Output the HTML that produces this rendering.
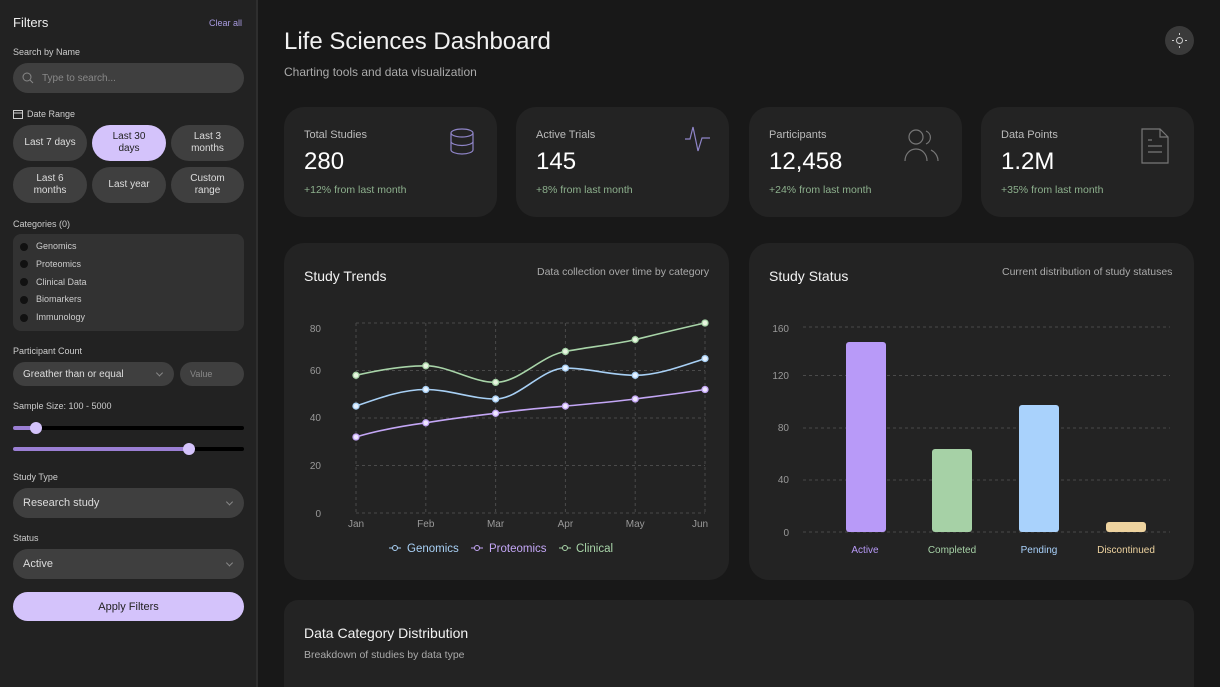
<!DOCTYPE html>
<html style="width:1220px;height:687px;overflow:hidden"><head><meta charset="utf-8"><style>
*{box-sizing:border-box;margin:0;padding:0}
body{width:1220px;height:687px;overflow:hidden;background:#181818;font-family:"Liberation Sans",sans-serif;color:#eee;position:relative}
.side{position:absolute;left:0;top:0;width:258px;height:687px;background:#222;border-right:2px solid #2e2e2e}
.a{position:absolute}
.lbl{font-size:10px;color:#ccc}
.pill{position:absolute;background:#3f3f3f;border-radius:20px;font-size:10px;color:#ddd;display:flex;align-items:center;justify-content:center;text-align:center;line-height:12px}
.card{position:absolute;background:#232323;border-radius:20px}
.sel{position:absolute;background:#3f3f3f;border-radius:20px;font-size:11px;color:#ddd;display:flex;align-items:center;padding-left:10px}
.chev{position:absolute;right:12px;top:50%;width:5px;height:5px;border-right:1px solid #888;border-bottom:1px solid #888;transform:translateY(-70%) rotate(45deg)}
.dot{display:inline-block;width:8px;height:8px;border-radius:50%;background:#111;margin-right:8px;vertical-align:middle}
</style></head><body>
<div class="side">
<div class="a" style="left:13px;top:15px;font-size:13px;color:#eee">Filters</div>
<div class="a" style="left:209px;top:18px;font-size:9px;color:#a99be0">Clear all</div>
<div class="a lbl" style="left:13px;top:47px;font-size:9px">Search by Name</div>
<div class="sel" style="left:13px;top:63px;width:231px;height:30px;color:#888;font-size:10px;padding-left:29px">Type to search...
<svg class="a" style="left:9px;top:9px" width="12" height="12"><circle cx="5" cy="5" r="4" fill="none" stroke="#888"/><line x1="8" y1="8" x2="11" y2="11" stroke="#888"/></svg></div>
<svg class="a" style="left:13px;top:109px" width="10" height="10"><rect x="0.5" y="1.5" width="9" height="8" fill="none" stroke="#ccc"/><line x1="0" y1="4" x2="10" y2="4" stroke="#ccc"/></svg>
<div class="a lbl" style="left:27px;top:109px;font-size:9px">Date Range</div>
<div class="pill" style="left:13px;top:125px;width:74px;height:36px">Last 7 days</div>
<div class="pill" style="left:92px;top:125px;width:74px;height:36px;background:#d4c3fb;color:#222">Last 30<br>days</div>
<div class="pill" style="left:171px;top:125px;width:73px;height:36px">Last 3<br>months</div>
<div class="pill" style="left:13px;top:167px;width:74px;height:36px">Last 6<br>months</div>
<div class="pill" style="left:92px;top:167px;width:74px;height:36px">Last year</div>
<div class="pill" style="left:171px;top:167px;width:73px;height:36px">Custom<br>range</div>
<div class="a lbl" style="left:13px;top:219px;font-size:9px">Categories (0)</div>
<div class="a" style="left:13px;top:234px;width:231px;height:97px;background:#323232;border-radius:8px;font-size:9px;color:#ccc;padding:4px 0 0 7px;line-height:17.8px">
<div><span class="dot"></span>Genomics</div><div><span class="dot"></span>Proteomics</div><div><span class="dot"></span>Clinical Data</div><div><span class="dot"></span>Biomarkers</div><div><span class="dot"></span>Immunology</div></div>
<div class="a lbl" style="left:13px;top:346px;font-size:9px">Participant Count</div>
<div class="sel" style="left:13px;top:362px;width:161px;height:24px;font-size:10px">Greather than or equal<span class="chev"></span></div>
<div class="sel" style="left:180px;top:362px;width:64px;height:24px;font-size:9px;color:#888">Value</div>
<div class="a lbl" style="left:13px;top:401px;font-size:9px">Sample Size: 100 - 5000</div>
<div class="a" style="left:13px;top:426px;width:231px;height:4px;background:#000;border-radius:2px"></div>
<div class="a" style="left:13px;top:426px;width:22px;height:4px;background:#9b7fd4;border-radius:2px"></div>
<div class="a" style="left:30px;top:422px;width:12px;height:12px;background:#d4c3fb;border-radius:50%"></div>
<div class="a" style="left:13px;top:447px;width:231px;height:4px;background:#000;border-radius:2px"></div>
<div class="a" style="left:13px;top:447px;width:176px;height:4px;background:#9b7fd4;border-radius:2px"></div>
<div class="a" style="left:183px;top:443px;width:12px;height:12px;background:#d4c3fb;border-radius:50%"></div>
<div class="a lbl" style="left:13px;top:472px;font-size:9px">Study Type</div>
<div class="sel" style="left:13px;top:488px;width:231px;height:30px">Research study<span class="chev"></span></div>
<div class="a lbl" style="left:13px;top:533px;font-size:9px">Status</div>
<div class="sel" style="left:13px;top:549px;width:231px;height:30px">Active<span class="chev"></span></div>
<div class="pill" style="left:13px;top:592px;width:231px;height:29px;background:#d4c3fb;color:#222;font-size:11px">Apply Filters</div>
</div>

<div class="a" style="left:284px;top:28px;font-size:24px;color:#f2f2f2">Life Sciences Dashboard</div>
<div class="a" style="left:284px;top:65px;font-size:12px;color:#aaa">Charting tools and data visualization</div>
<div class="a" style="left:1165px;top:26px;width:29px;height:29px;border-radius:50%;background:#3a3a3a"></div>
<svg class="a" style="left:1171px;top:32px" width="17" height="17"><circle cx="8.5" cy="8.5" r="3" fill="none" stroke="#ccc"/><g stroke="#ccc"><line x1="8.5" y1="1" x2="8.5" y2="3"/><line x1="8.5" y1="14" x2="8.5" y2="16"/><line x1="1" y1="8.5" x2="3" y2="8.5"/><line x1="14" y1="8.5" x2="16" y2="8.5"/></g></svg>

<div class="card" style="left:284px;top:107px;width:213px;height:110px"></div>
<div class="card" style="left:516px;top:107px;width:213px;height:110px"></div>
<div class="card" style="left:749px;top:107px;width:213px;height:110px"></div>
<div class="card" style="left:981px;top:107px;width:213px;height:110px"></div>
<div class="a" style="left:304px;top:129px;font-size:11px;color:#bbb">Total Studies</div>
<div class="a" style="left:304px;top:148px;font-size:24px;color:#fff">280</div>
<div class="a" style="left:304px;top:184px;font-size:10.5px;color:#8db08d">+12% from last month</div>
<div class="a" style="left:536px;top:129px;font-size:11px;color:#bbb">Active Trials</div>
<div class="a" style="left:536px;top:148px;font-size:24px;color:#fff">145</div>
<div class="a" style="left:536px;top:184px;font-size:10.5px;color:#8db08d">+8% from last month</div>
<div class="a" style="left:769px;top:129px;font-size:11px;color:#bbb">Participants</div>
<div class="a" style="left:769px;top:148px;font-size:24px;color:#fff">12,458</div>
<div class="a" style="left:769px;top:184px;font-size:10.5px;color:#8db08d">+24% from last month</div>
<div class="a" style="left:1001px;top:129px;font-size:11px;color:#bbb">Data Points</div>
<div class="a" style="left:1001px;top:148px;font-size:24px;color:#fff">1.2M</div>
<div class="a" style="left:1001px;top:184px;font-size:10.5px;color:#8db08d">+35% from last month</div>
<svg class="a" style="left:449px;top:128px" width="26" height="28" fill="none" stroke="#8f85c8" stroke-width="1.2"><ellipse cx="13" cy="5" rx="11" ry="4"/><path d="M2 5v17c0 2 5 4 11 4s11-2 11-4V5M2 13.5c0 2 5 4 11 4s11-2 11-4"/></svg>
<svg class="a" style="left:684px;top:125px" width="28" height="28" fill="none" stroke="#8f85c8" stroke-width="1.2"><path d="M1 14h5l3-12 5 24 4-13h8"/></svg>
<svg class="a" style="left:904px;top:128px" width="36" height="34" fill="none" stroke="#777" stroke-width="1.2"><circle cx="12" cy="9" r="7"/><path d="M1 33c0-7 5-12 11-12s11 5 11 12"/><path d="M22 3a7 7 0 0 1 0 13M27 22c4 2 7 6 7 11"/></svg>
<svg class="a" style="left:1141px;top:128px" width="28" height="36" fill="none" stroke="#777" stroke-width="1.2"><path d="M1 1h18l8 8v26H1z M19 1v8h8 M7 18h14 M7 24h14 M7 12h4"/></svg>

<div class="card" style="left:284px;top:243px;width:445px;height:337px"></div>
<div class="card" style="left:749px;top:243px;width:445px;height:337px"></div>
<div class="a" style="left:304px;top:268px;font-size:14px;color:#f2f2f2">Study Trends</div>
<div class="a" style="left:537px;top:266px;font-size:10.5px;color:#aaa">Data collection over time by category</div>
<div class="a" style="left:769px;top:268px;font-size:14px;color:#f2f2f2">Study Status</div>
<div class="a" style="left:1002px;top:266px;font-size:10.5px;color:#aaa">Current distribution of study statuses</div>

<svg class="a" style="left:0;top:0" width="1220" height="687" font-family="Liberation Sans,sans-serif">
<g stroke="#4a4a4a" stroke-dasharray="3 3" stroke-width="1">
<line x1="356" y1="323" x2="705" y2="323"/><line x1="356" y1="370.5" x2="705" y2="370.5"/><line x1="356" y1="418" x2="705" y2="418"/><line x1="356" y1="465.5" x2="705" y2="465.5"/><line x1="356" y1="513" x2="705" y2="513"/>
<line x1="356" y1="323" x2="356" y2="513"/><line x1="425.8" y1="323" x2="425.8" y2="513"/><line x1="495.6" y1="323" x2="495.6" y2="513"/><line x1="565.4" y1="323" x2="565.4" y2="513"/><line x1="635.2" y1="323" x2="635.2" y2="513"/><line x1="705" y1="323" x2="705" y2="513"/>
<line x1="803" y1="327" x2="1170" y2="327"/><line x1="803" y1="375.5" x2="1170" y2="375.5"/><line x1="803" y1="428" x2="1170" y2="428"/><line x1="803" y1="480" x2="1170" y2="480"/><line x1="803" y1="532" x2="1170" y2="532"/>
</g>
<g fill="#999" font-size="10" text-anchor="end"><text x="321" y="332">80</text><text x="321" y="374">60</text><text x="321" y="421">40</text><text x="321" y="469">20</text><text x="321" y="517">0</text>
<text x="789" y="332">160</text><text x="789" y="379">120</text><text x="789" y="431">80</text><text x="789" y="483">40</text><text x="789" y="536">0</text></g>
<g fill="#999" font-size="10" text-anchor="middle"><text x="356" y="527">Jan</text><text x="425.8" y="527">Feb</text><text x="495.6" y="527">Mar</text><text x="565.4" y="527">Apr</text><text x="635.2" y="527">May</text><text x="700" y="527">Jun</text></g>
<g fill="none" stroke-width="1.6">
<path stroke="#a8d0f5" d="M356,406.1 C379,398 402,389.5 425.8,389.5 C449,389.5 472,399 495.6,399 C519,399 542,368.1 565.4,368.1 C588,368.1 612,375.3 635.2,375.3 C658,375.3 682,366 705,358.6"/>
<path stroke="#c3a6f5" d="M356,437 C379,430 402,426 425.8,422.8 C449,419 472,416 495.6,413.3 C519,410 542,408 565.4,406.1 C588,404 612,402 635.2,399 C658,396 682,393 705,389.5"/>
<path stroke="#a8d4a8" d="M356,375.3 C379,370 402,365.8 425.8,365.8 C449,365.8 472,382.4 495.6,382.4 C519,382.4 542,355 565.4,351.5 C588,347 612,345 635.2,339.6 C658,334 682,328 705,323"/>
</g>
<g stroke-width="1.3">
<g fill="#e6f2ff" stroke="#a8d0f5"><circle cx="356" cy="406.1" r="3"/><circle cx="425.8" cy="389.5" r="3"/><circle cx="495.6" cy="399" r="3"/><circle cx="565.4" cy="368.1" r="3"/><circle cx="635.2" cy="375.3" r="3"/><circle cx="705" cy="358.6" r="3"/></g>
<g fill="#efe6ff" stroke="#c3a6f5"><circle cx="356" cy="437" r="3"/><circle cx="425.8" cy="422.8" r="3"/><circle cx="495.6" cy="413.3" r="3"/><circle cx="565.4" cy="406.1" r="3"/><circle cx="635.2" cy="399" r="3"/><circle cx="705" cy="389.5" r="3"/></g>
<g fill="#e8f5e0" stroke="#a8d4a8"><circle cx="356" cy="375.3" r="3"/><circle cx="425.8" cy="365.8" r="3"/><circle cx="495.6" cy="382.4" r="3"/><circle cx="565.4" cy="351.5" r="3"/><circle cx="635.2" cy="339.6" r="3"/><circle cx="705" cy="323" r="3"/></g>
</g>
<g font-size="11.5">
<line x1="389" y1="548" x2="401" y2="548" stroke="#a8d0f5"/><circle cx="395" cy="548" r="2.5" fill="#232323" stroke="#a8d0f5"/><text x="407" y="552" fill="#a8d0f5">Genomics</text>
<line x1="471" y1="548" x2="483" y2="548" stroke="#c3a6f5"/><circle cx="477" cy="548" r="2.5" fill="#232323" stroke="#c3a6f5"/><text x="489" y="552" fill="#c3a6f5">Proteomics</text>
<line x1="559" y1="548" x2="571" y2="548" stroke="#a8d4a8"/><circle cx="565" cy="548" r="2.5" fill="#232323" stroke="#a8d4a8"/><text x="576" y="552" fill="#a8d4a8">Clinical</text>
</g>
<rect x="846" y="342" width="40" height="190" rx="3" fill="#b89af8"/>
<rect x="932" y="449" width="40" height="83" rx="3" fill="#a6d1a6"/>
<rect x="1019" y="405" width="40" height="127" rx="3" fill="#a9d2fc"/>
<rect x="1106" y="522" width="40" height="10" rx="3" fill="#eed39f"/>
<g font-size="10" text-anchor="middle"><text x="865" y="553" fill="#b89af8">Active</text><text x="952" y="553" fill="#a6d1a6">Completed</text><text x="1039" y="553" fill="#a9d2fc">Pending</text><text x="1126" y="553" fill="#eed39f">Discontinued</text></g>
</svg>

<div class="a" style="left:284px;top:600px;width:910px;height:87px;background:#232323;border-radius:14px 14px 0 0"></div>
<div class="a" style="left:304px;top:625px;font-size:14px;color:#f2f2f2">Data Category Distribution</div>
<div class="a" style="left:304px;top:649px;font-size:10.5px;color:#aaa">Breakdown of studies by data type</div>
</body></html>
